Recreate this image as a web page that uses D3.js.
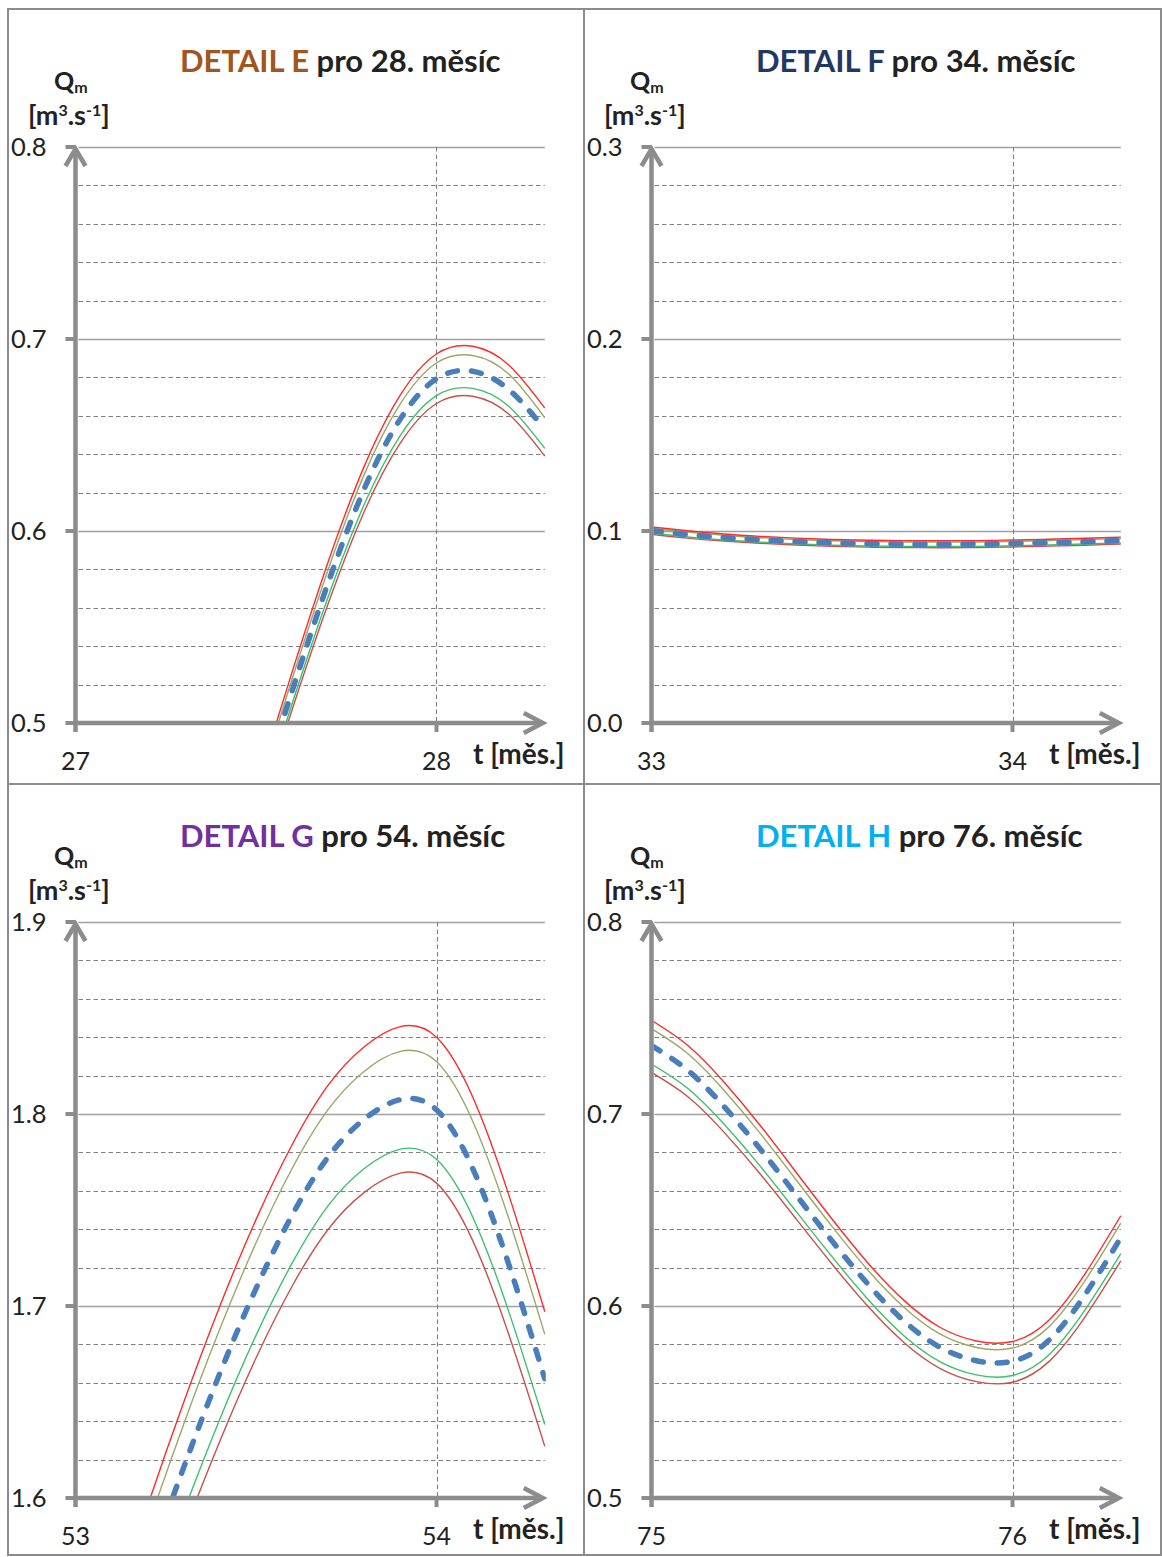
<!DOCTYPE html>
<html><head><meta charset="utf-8">
<script src="https://cdn.jsdelivr.net/npm/d3@7"></script>
<style>
body{margin:0;background:#fff}
svg{display:block}
text{font-family:Lato,"Open Sans","Liberation Sans",sans-serif}
</style></head><body>
<svg id="c" width="1162" height="1557"></svg>
<script>
// ---------- DATA ----------
const tE = [27.5, 27.6, 27.7, 27.8, 27.9, 28.0, 28.1, 28.2, 28.3];
const E_red     = [0.4660, 0.5265, 0.5840, 0.6338, 0.6709, 0.6922, 0.6962, 0.6865, 0.6640];
const E_olive   = [0.4628, 0.5229, 0.5800, 0.6295, 0.6663, 0.6875, 0.6914, 0.6818, 0.6590];
const E_blue    = [0.4573, 0.5167, 0.5731, 0.6220, 0.6584, 0.6793, 0.6832, 0.6737, 0.6530];
const E_green   = [0.4514, 0.5100, 0.5657, 0.6139, 0.6498, 0.6705, 0.6743, 0.6650, 0.6430];
const E_darkred = [0.4486, 0.5069, 0.5622, 0.6102, 0.6459, 0.6664, 0.6702, 0.6609, 0.6390];

const tF = [33.0, 33.1, 33.2, 33.3, 33.4, 33.5, 33.6, 33.7, 33.8, 33.9, 34.0, 34.1, 34.2, 34.3];
const F_red     = [0.1021, 0.1001, 0.0984, 0.0972, 0.0963, 0.0956, 0.0952, 0.0950, 0.0949, 0.0950, 0.0953, 0.0957, 0.0962, 0.0968];
const F_olive   = [0.1014, 0.0994, 0.0978, 0.0965, 0.0956, 0.0949, 0.0945, 0.0943, 0.0942, 0.0943, 0.0946, 0.0950, 0.0955, 0.0961];
const F_blue    = [0.1002, 0.0982, 0.0966, 0.0954, 0.0945, 0.0938, 0.0934, 0.0932, 0.0931, 0.0932, 0.0935, 0.0939, 0.0944, 0.0950];
const F_green   = [0.0989, 0.0969, 0.0953, 0.0942, 0.0933, 0.0926, 0.0922, 0.0920, 0.0919, 0.0920, 0.0923, 0.0927, 0.0932, 0.0938];
const F_darkred = [0.0983, 0.0963, 0.0948, 0.0936, 0.0927, 0.0920, 0.0916, 0.0914, 0.0913, 0.0914, 0.0917, 0.0921, 0.0926, 0.0932];

const tG = [53.1, 53.2, 53.3, 53.4, 53.5, 53.6, 53.7, 53.8, 53.9, 54.0, 54.1, 54.2, 54.3];
const G_red     = [1.5380, 1.5960, 1.6500, 1.7000, 1.7450, 1.7840, 1.8150, 1.8350, 1.8455, 1.8400, 1.8090, 1.7580, 1.6970];
const G_olive   = [1.5273, 1.5849, 1.6386, 1.6881, 1.7329, 1.7716, 1.8024, 1.8223, 1.8326, 1.8273, 1.7964, 1.7457, 1.6852];
const G_blue    = [1.5064, 1.5632, 1.6161, 1.6650, 1.7091, 1.7473, 1.7777, 1.7973, 1.8075, 1.8022, 1.7718, 1.7218, 1.6621];
const G_green   = [1.4849, 1.5409, 1.5930, 1.6412, 1.6847, 1.7223, 1.7523, 1.7716, 1.7817, 1.7764, 1.7465, 1.6972, 1.6383];
const G_darkred = [1.4745, 1.5301, 1.5819, 1.6297, 1.6729, 1.7103, 1.7400, 1.7592, 1.7692, 1.7640, 1.7342, 1.6853, 1.6269];

const tH = [75.0, 75.1, 75.2, 75.3, 75.4, 75.5, 75.6, 75.7, 75.8, 75.9, 76.0, 76.1, 76.2, 76.3];
const H_red     = [0.7488, 0.7358, 0.7168, 0.6943, 0.6698, 0.6453, 0.6223, 0.6028, 0.5888, 0.5818, 0.5815, 0.5925, 0.6165, 0.6470];
const H_olive   = [0.7444, 0.7315, 0.7125, 0.6902, 0.6659, 0.6415, 0.6186, 0.5992, 0.5853, 0.5784, 0.5781, 0.5890, 0.6129, 0.6432];
const H_blue    = [0.7356, 0.7228, 0.7041, 0.6820, 0.6580, 0.6339, 0.6113, 0.5921, 0.5784, 0.5715, 0.5712, 0.5820, 0.6056, 0.6356];
const H_green   = [0.7260, 0.7134, 0.6949, 0.6731, 0.6494, 0.6257, 0.6034, 0.5844, 0.5709, 0.5641, 0.5638, 0.5744, 0.5977, 0.6273];
const H_darkred = [0.7216, 0.7091, 0.6907, 0.6690, 0.6455, 0.6219, 0.5997, 0.5809, 0.5674, 0.5606, 0.5603, 0.5709, 0.5941, 0.6235];

const yTicksE = [0.5, 0.6, 0.7, 0.8];
const yTicksF = [0.0, 0.1, 0.2, 0.3];
const yTicksG = [1.6, 1.7, 1.8, 1.9];
const yTicksH = [0.5, 0.6, 0.7, 0.8];
const xTicksE = [27, 28];
const xTicksF = [33, 34];
const xTicksG = [53, 54];
const xTicksH = [75, 76];

const titlesLetter = ["DETAIL E", "DETAIL F", "DETAIL G", "DETAIL H"];
const titlesRest = [" pro 28. měsíc", " pro 34. měsíc", " pro 54. měsíc", " pro 76. měsíc"];

// ---------- STYLE ----------
const seriesStyle = [
  {key: "darkred", color: "#c9504b", w: 1.4, dash: null},
  {key: "green",   color: "#3cc06e", w: 1.4, dash: null},
  {key: "olive",   color: "#9aa866", w: 1.4, dash: null},
  {key: "red",     color: "#ff2a2a", w: 1.4, dash: null},
  {key: "blue",    color: "#4a7ebb", w: 5.5, dash: "10,14"}
];
const titleColors = ["#a0561c", "#1f3864", "#7030a0", "#00b0f0"];
const axisCol = "#8c8c8c";
const gridCol = "#7f7f7f";

const panels = [
  {t: tE, s: {red: E_red, olive: E_olive, blue: E_blue, green: E_green, darkred: E_darkred}, yt: yTicksE, xt: xTicksE, qx: 8, qy: 9},
  {t: tF, s: {red: F_red, olive: F_olive, blue: F_blue, green: F_green, darkred: F_darkred}, yt: yTicksF, xt: xTicksF, qx: 584, qy: 9},
  {t: tG, s: {red: G_red, olive: G_olive, blue: G_blue, green: G_green, darkred: G_darkred}, yt: yTicksG, xt: xTicksG, qx: 8, qy: 784},
  {t: tH, s: {red: H_red, olive: H_olive, blue: H_blue, green: H_green, darkred: H_darkred}, yt: yTicksH, xt: xTicksH, qx: 584, qy: 784}
];

const svg = d3.select("#c");
const defs = svg.append("defs");

// frame
svg.append("rect").attr("x", 8).attr("y", 9).attr("width", 1153).attr("height", 1546)
  .attr("fill", "none").attr("stroke", "#8c8c8c").attr("stroke-width", 2);
svg.append("line").attr("x1", 584).attr("x2", 584).attr("y1", 9).attr("y2", 1555).attr("stroke", "#8c8c8c").attr("stroke-width", 2);
svg.append("line").attr("x1", 8).attr("x2", 1161).attr("y1", 784).attr("y2", 784).attr("stroke", "#8c8c8c").attr("stroke-width", 2);

panels.forEach((p, i) => {
  const ox = p.qx + 67.5;
  const top = p.qy + 138;
  const bot = p.qy + 714;
  const x0 = p.xt[0];
  const xr = ox + 1.3 * 361;
  const x = d3.scaleLinear().domain([x0, x0 + 1.3]).range([ox, xr]);
  const y = d3.scaleLinear().domain([p.yt[0], p.yt[p.yt.length - 1]]).range([bot, top]);
  const g = svg.append("g");

  // minor grid (every 0.02)
  const ymin = p.yt[0];
  const minor = d3.range(1, 15).filter(k => k % 5 !== 0).map(k => ymin + k * 0.02);
  g.selectAll(".mg").data(minor).join("line")
    .attr("x1", ox + 3).attr("x2", xr).attr("y1", d => Math.round(y(d)) + 0.5).attr("y2", d => Math.round(y(d)) + 0.5)
    .attr("stroke", gridCol).attr("stroke-width", 1.1).attr("stroke-dasharray", "4.5,3");
  // major grid
  g.selectAll(".Mg").data(p.yt.slice(1)).join("line")
    .attr("x1", ox + 3).attr("x2", xr).attr("y1", d => Math.round(y(d)) + 0.5).attr("y2", d => Math.round(y(d)) + 0.5)
    .attr("stroke", "#a0a0a0").attr("stroke-width", 1.6);
  // vertical dashed grid
  g.append("line").attr("x1", Math.round(x(p.xt[1])) + 0.5).attr("x2", Math.round(x(p.xt[1])) + 0.5)
    .attr("y1", top).attr("y2", bot).attr("stroke", gridCol).attr("stroke-width", 1.1).attr("stroke-dasharray", "4.5,3");

  // curves
  const cid = "clip" + i;
  defs.append("clipPath").attr("id", cid).append("rect")
    .attr("x", ox + 2).attr("y", top).attr("width", xr - ox - 1).attr("height", bot - top - 1);
  const line = d3.line().x(d => x(d[0])).y(d => y(d[1])).curve(d3.curveNatural);
  const cg = g.append("g").attr("clip-path", `url(#${cid})`);
  seriesStyle.forEach(st => {
    const pts = p.t.map((t, k) => [t, p.s[st.key][k]]);
    const path = cg.append("path").attr("d", line(pts)).attr("fill", "none")
      .attr("stroke", st.color).attr("stroke-width", st.w);
    if (st.dash) path.attr("stroke-dasharray", st.dash).attr("stroke-linecap", "round");
  });

  // axes
  const ac = axisCol;
  g.append("line").attr("x1", ox).attr("x2", ox).attr("y1", bot + 9).attr("y2", top + 2)
    .attr("stroke", ac).attr("stroke-width", 4.5);
  g.append("line").attr("x1", ox - 2).attr("x2", xr - 2).attr("y1", bot).attr("y2", bot)
    .attr("stroke", ac).attr("stroke-width", 4.5);
  // arrowheads
  g.append("path").attr("d", `M${ox - 10},${top + 19} L${ox},${top + 2} L${ox + 10},${top + 19}`)
    .attr("fill", "none").attr("stroke", ac).attr("stroke-width", 4.5).attr("stroke-linejoin", "miter");
  g.append("path").attr("d", `M${xr - 21},${bot - 10} L${xr - 2},${bot} L${xr - 21},${bot + 10}`)
    .attr("fill", "none").attr("stroke", ac).attr("stroke-width", 4.5).attr("stroke-linejoin", "miter");
  // ticks
  g.selectAll(".yt").data(p.yt).join("line")
    .attr("x1", ox - 10).attr("x2", ox).attr("y1", d => y(d)).attr("y2", d => y(d))
    .attr("stroke", ac).attr("stroke-width", 4);
  g.append("line").attr("x1", x(p.xt[1])).attr("x2", x(p.xt[1])).attr("y1", bot).attr("y2", bot + 9)
    .attr("stroke", ac).attr("stroke-width", 4);

  // tick labels
  g.selectAll(".yl").data(p.yt).join("text")
    .attr("x", p.qx + 3).attr("y", d => y(d) + 9)
    .attr("font-size", 25.5).attr("fill", "#222").text(d => d.toFixed(1));
  g.selectAll(".xl").data(p.xt).join("text")
    .attr("x", d => x(d)).attr("y", bot + 47).attr("text-anchor", "middle")
    .attr("font-size", 25).attr("fill", "#222").text(d => d);
  g.append("text").attr("x", p.qx + 465).attr("y", bot + 41)
    .attr("font-size", 28).attr("font-weight", "bold").attr("fill", "#222").text("t [měs.]");

  // y-axis title
  const yt1 = g.append("text").attr("x", p.qx + 46).attr("y", p.qy + 81)
    .attr("font-size", 25).attr("font-weight", "bold").attr("fill", "#222");
  yt1.append("tspan").text("Q");
  yt1.append("tspan").attr("font-size", 16).attr("dy", 3).text("m");
  const yt2 = g.append("text").attr("x", p.qx + 20).attr("y", p.qy + 116)
    .attr("font-size", 27).attr("font-weight", "bold").attr("fill", "#222");
  yt2.append("tspan").text("[m");
  yt2.append("tspan").attr("font-size", 16).attr("dy", -9).text("3");
  yt2.append("tspan").attr("dy", 9).text(".s");
  yt2.append("tspan").attr("font-size", 16).attr("dy", -9).text("-1");
  yt2.append("tspan").attr("dy", 9).text("]");

  // title
  const tt = g.append("text").attr("x", p.qx + 172).attr("y", p.qy + 63)
    .attr("font-size", 31).attr("font-weight", "bold").attr("fill", "#222");
  tt.append("tspan").attr("fill", titleColors[i]).text(titlesLetter[i]);
  tt.append("tspan").text(titlesRest[i]);
});
</script>
</body></html>
